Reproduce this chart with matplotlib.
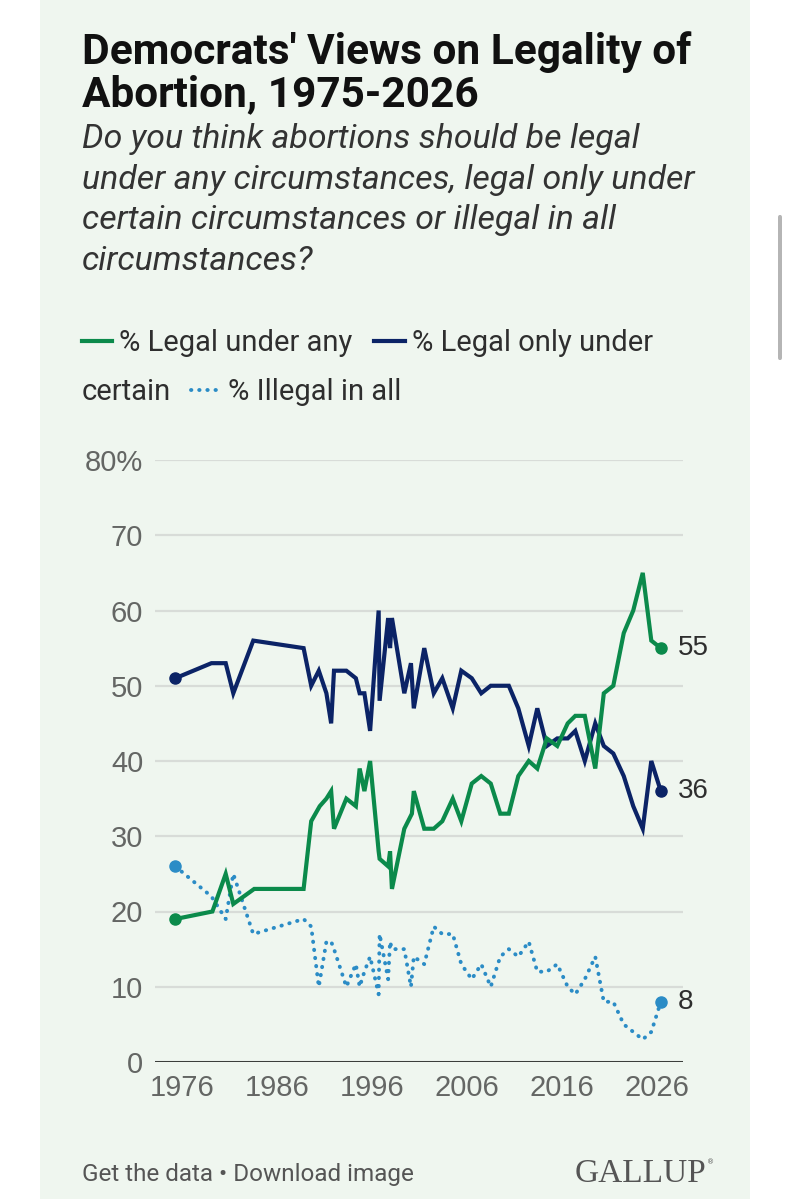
import matplotlib
matplotlib.use("Agg")
import matplotlib.pyplot as plt
from matplotlib.patches import Rectangle, FancyBboxPatch

# ---------------- data ----------------
legal_any_years = [1975.3, 1979.2, 1980.6, 1981.4, 1983.6, 1988.8, 1989.6, 1990.5, 1991.2, 1991.7,
                   1992.0, 1993.3, 1994.3, 1994.7, 1995.2, 1995.8, 1996.7, 1996.8, 1997.7, 1997.9,
                   1998.1, 1999.4, 2000.2, 2000.4, 2001.5, 2002.5, 2003.4, 2004.5, 2005.4, 2006.5,
                   2007.5, 2008.5, 2009.5, 2010.4, 2011.4, 2012.5, 2013.4, 2014.4, 2015.5, 2016.6,
                   2017.4, 2018.4, 2019.5, 2020.4, 2021.4, 2022.5, 2023.5, 2024.5, 2025.4, 2026.4]
legal_any = [19, 20, 25, 21, 23, 23, 32, 34, 35, 36,
             31, 35, 34, 39, 36, 40, 28, 27, 26, 28,
             23, 31, 33, 36, 31, 31, 32, 35, 32, 37,
             38, 37, 33, 33, 38, 40, 39, 43, 42, 45,
             46, 46, 39, 49, 50, 57, 60, 65, 56, 55]

legal_certain_years = [1975.3, 1979.1, 1980.6, 1981.4, 1983.5, 1988.8, 1989.6, 1990.4, 1991.2, 1991.7,
                       1992.0, 1993.3, 1994.3, 1994.7, 1995.2, 1995.8, 1996.7, 1996.8, 1997.7, 1997.9,
                       1998.1, 1999.4, 2000.1, 2000.4, 2001.5, 2002.5, 2003.4, 2004.5, 2005.4, 2006.5,
                       2007.5, 2008.5, 2009.5, 2010.4, 2011.4, 2012.5, 2013.4, 2014.4, 2015.5, 2016.6,
                       2017.4, 2018.4, 2019.5, 2020.4, 2021.4, 2022.5, 2023.5, 2024.5, 2025.4, 2026.4]
legal_certain = [51, 53, 53, 49, 56, 55, 50, 52, 49, 45,
                 52, 52, 51, 49, 49, 44, 60, 48, 59, 55,
                 59, 49, 53, 47, 55, 49, 51, 47, 52, 51,
                 49, 50, 50, 50, 47, 42, 47, 42, 43, 43,
                 44, 40, 45, 42, 41, 38, 34, 31, 40, 36]

illegal_years = legal_certain_years
illegal = [26, 22, 19, 25, 17, 19, 18, 10, 16, 16,
           15, 10, 13, 10, 12, 14, 9, 17, 11, 16,
           15, 15, 10, 14, 13, 18, 17, 17, 13, 11,
           13, 10, 14, 15, 14, 16, 12, 12, 13, 10,
           9, 11, 14, 8, 8, 5, 4, 3, 4, 8]

y_ticks = [0, 10, 20, 30, 40, 50, 60, 70, 80]
y_tick_labels = ["0", "10", "20", "30", "40", "50", "60", "70", "80%"]
x_ticks = [1976, 1986, 1996, 2006, 2016, 2026]
x_tick_labels = ["1976", "1986", "1996", "2006", "2016", "2026"]

title_lines = ["Democrats' Views on Legality of", "Abortion, 1975-2026"]
subtitle_lines = ["Do you think abortions should be legal",
                  "under any circumstances, legal only under",
                  "certain circumstances or illegal in all",
                  "circumstances?"]
series_names = ["% Legal under any", "% Legal only under", "certain", "% Illegal in all"]

# ---------------- style ----------------
W, H = 790, 1199
BG = "#eff6ef"
GREEN = "#0b8a4b"
NAVY = "#0b2366"
LIGHT = "#2b8cc6"
GRID = "#d8dcd8"
TICK = "#646664"
TEXT = "#2e2e2e"
FONT = "Roboto"
NUMFONT = "Liberation Sans"
LW = 3.0
DOT_LW = 2.8
DOTS = (0, (0.1, 2.0))

def fx(x):
    return x / W

def fy(y):
    return 1 - y / H

fig = plt.figure(figsize=(W / 100, H / 100), dpi=100)
fig.patch.set_facecolor("white")

# panel
fig.add_artist(Rectangle((fx(40), 0), fx(750) - fx(40), 1, transform=fig.transFigure,
                         facecolor=BG, edgecolor="none", zorder=0))
# scrollbar
fig.add_artist(FancyBboxPatch((fx(778), fy(360)), fx(4), fy(215) - fy(360),
                              boxstyle="round,pad=0,rounding_size=0.002",
                              transform=fig.transFigure, facecolor="#b5b5b5",
                              edgecolor="none", zorder=1))

# title
for i, line in enumerate(title_lines):
    fig.text(fx(82), fy(64 + 42 * i), line, fontsize=30.5, fontweight="bold",
             family=FONT, color="#111111", va="baseline", ha="left")
for i, line in enumerate(subtitle_lines):
    fig.text(fx(82), fy(148 + 40.5 * i), line, fontsize=24.4, style="italic",
             family=FONT, color="#333333", va="baseline", ha="left")

# legend (manual, wrapped like the reference)
lg_fs = 21
fig.add_artist(plt.Line2D([fx(82), fx(112)], [fy(341), fy(341)], color=GREEN, lw=LW,
                          transform=fig.transFigure))
fig.text(fx(119), fy(351), series_names[0], fontsize=lg_fs, family=FONT, color=TEXT,
         va="baseline", ha="left")
fig.add_artist(plt.Line2D([fx(374), fx(405)], [fy(341), fy(341)], color=NAVY, lw=LW,
                          transform=fig.transFigure))
fig.text(fx(412), fy(351), series_names[1], fontsize=lg_fs, family=FONT, color=TEXT,
         va="baseline", ha="left")
fig.text(fx(82), fy(400), series_names[2], fontsize=lg_fs, family=FONT, color=TEXT,
         va="baseline", ha="left")
fig.add_artist(plt.Line2D([fx(191), fx(222)], [fy(390), fy(390)], color=LIGHT, lw=DOT_LW,
                          linestyle=DOTS, dash_capstyle="round",
                          transform=fig.transFigure))
fig.text(fx(228), fy(400), series_names[3], fontsize=lg_fs, family=FONT, color=TEXT,
         va="baseline", ha="left")

# axes
ax = fig.add_axes([fx(155), fy(1062), fx(683) - fx(155), fy(460) - fy(1062)])
ax.set_facecolor("none")
x0 = 1976 + (155 - 182) / 9.5
x1 = 1976 + (683 - 182) / 9.5
ax.set_xlim(x0, x1)
ax.set_ylim(0, 80)
for s in ax.spines.values():
    s.set_visible(False)
for t in y_ticks[1:]:
    ax.axhline(t, color=GRID, lw=1.6, zorder=1)
ax.axhline(0, color="#3c3f3c", lw=2.2, zorder=2)

ax.set_yticks(y_ticks)
ax.set_yticklabels(y_tick_labels)
ax.set_xticks(x_ticks)
ax.set_xticklabels(x_tick_labels)
ax.tick_params(axis="both", length=0, labelsize=21, labelcolor=TICK)
ax.tick_params(axis="y", pad=8.5)
ax.tick_params(axis="x", pad=9)
for lab in ax.get_xticklabels() + ax.get_yticklabels():
    lab.set_family(NUMFONT)

ax.plot(illegal_years, illegal, color=LIGHT, lw=DOT_LW, linestyle=DOTS,
        dash_capstyle="round", zorder=3)
ax.plot(legal_certain_years, legal_certain, color=NAVY, lw=LW, solid_joinstyle="miter", zorder=4)
ax.plot(legal_any_years, legal_any, color=GREEN, lw=LW, solid_joinstyle="miter", zorder=5)

for xs, ys, c in [(legal_any_years, legal_any, GREEN),
                  (legal_certain_years, legal_certain, NAVY),
                  (illegal_years, illegal, LIGHT)]:
    ax.plot([xs[0], xs[-1]], [ys[0], ys[-1]], "o", color=c, ms=8, zorder=6, clip_on=False)
    ax.annotate(str(ys[-1]), xy=(xs[-1], ys[-1]), xytext=(12, 0), textcoords="offset points",
                va="center", ha="left", fontsize=20, family=NUMFONT, color=TEXT,
                annotation_clip=False)

# footer
fig.text(fx(82), fy(1181), "Get the data \u2022 Download image", fontsize=17.5, family=FONT,
         color="#555555", va="baseline", ha="left")
fig.text(fx(706), fy(1182), "GALLUP", fontsize=24, family="Liberation Serif",
         color="#555555", va="baseline", ha="right")
fig.text(fx(707), fy(1164), "\u00ae", fontsize=5, family="DejaVu Sans",
         color="#555555", va="baseline", ha="left")

fig.savefig("out.png", dpi=100, facecolor=fig.get_facecolor())
